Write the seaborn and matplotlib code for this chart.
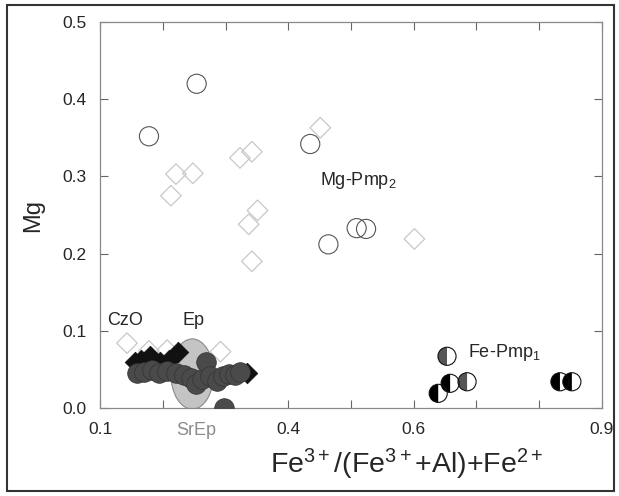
import numpy as np
import pandas as pd
import seaborn as sns
import matplotlib.pyplot as plt
from matplotlib.markers import MarkerStyle
from matplotlib.patches import Ellipse, Rectangle

# Mg-Pmp2 (open diamonds)
dia_x = [0.221, 0.248, 0.213, 0.323, 0.342, 0.351, 0.337, 0.342, 0.451, 0.601,
         0.143, 0.178, 0.207, 0.292]
dia_y = [0.303, 0.304, 0.275, 0.324, 0.332, 0.256, 0.238, 0.190, 0.363, 0.219,
         0.084, 0.074, 0.075, 0.073]

# Mg-Pmp2 (open circles)
circ_x = [0.178, 0.254, 0.435, 0.464, 0.509, 0.524]
circ_y = [0.352, 0.420, 0.342, 0.212, 0.233, 0.232]

# Ep (filled black diamonds)
ep_x = [0.155, 0.165, 0.180, 0.195, 0.210, 0.225, 0.335]
ep_y = [0.060, 0.062, 0.068, 0.060, 0.062, 0.072, 0.045]

# filled gray circles
gr_x = [0.159, 0.170, 0.183, 0.194, 0.207, 0.221, 0.234, 0.245, 0.253, 0.262,
        0.269, 0.276, 0.286, 0.296, 0.305, 0.315, 0.323, 0.297]
gr_y = [0.045, 0.047, 0.049, 0.045, 0.048, 0.045, 0.043, 0.039, 0.031, 0.038,
        0.060, 0.041, 0.035, 0.041, 0.044, 0.043, 0.047, 0.000]

# Fe-Pmp1 (half filled circles)
fe_x = [0.653, 0.639, 0.658, 0.685, 0.833, 0.852]
fe_y = [0.067, 0.019, 0.032, 0.034, 0.034, 0.034]
fe_fill = ['#555555', '#000000', '#000000', '#555555', '#000000', '#000000']

# SrEp field
srep_center = (0.247, 0.044)
srep_w, srep_h = 0.068, 0.091

sns.set_style('ticks')
plt.rcParams['font.family'] = ['Liberation Sans', 'DejaVu Sans']
plt.rcParams['mathtext.fontset'] = 'custom'
plt.rcParams['mathtext.rm'] = 'Liberation Sans'
plt.rcParams['mathtext.it'] = 'Liberation Sans'

fig = plt.figure(figsize=(6.19, 4.96), dpi=100)
ax = fig.add_axes([0.1616, 0.1774, 0.8109, 0.7782])

ax.add_patch(Ellipse(srep_center, srep_w, srep_h, facecolor='#c4c4c4',
                     edgecolor='#8a8a8a', lw=0.8, zorder=1.5))

sns.scatterplot(x=dia_x, y=dia_y, ax=ax, marker='D', s=110, facecolor='none',
                edgecolor='#c8c8c8', linewidth=0.9, zorder=1)
sns.scatterplot(x=circ_x, y=circ_y, ax=ax, marker='o', s=190, facecolor='none',
                edgecolor='#555555', linewidth=0.8, zorder=2)
sns.scatterplot(x=ep_x, y=ep_y, ax=ax, marker='D', s=110, color='#111111',
                edgecolor='#111111', linewidth=0.5, zorder=2)
sns.scatterplot(x=gr_x, y=gr_y, ax=ax, marker='o', s=200, color='#4a4a4a',
                edgecolor='#333333', linewidth=0.5, zorder=3)
sns.scatterplot(x=fe_x, y=fe_y, ax=ax, marker=MarkerStyle('o', fillstyle='left'),
                s=170, c=fe_fill, edgecolor='none', zorder=3)
sns.scatterplot(x=fe_x, y=fe_y, ax=ax, marker='o', s=170, facecolor='none',
                edgecolor='#111111', linewidth=0.8, zorder=4)

ax.set_xlim(0.1, 0.9)
ax.set_ylim(0.0, 0.5)
ax.set_xticks(np.arange(0.1, 0.91, 0.1))
ax.set_xticklabels(['0.1', '', '', '0.4', '', '0.6', '', '', '0.9'])
ax.set_yticks(np.arange(0.0, 0.51, 0.1))
ax.set_yticklabels(['0.0', '0.1', '0.2', '0.3', '0.4', '0.5'])
ax.tick_params(direction='in', length=6, width=0.8, color='#666666',
               top=True, right=True, labelsize=12.5, pad=10)
for sp in ax.spines.values():
    sp.set_color('#888888')
    sp.set_linewidth(0.9)

ax.set_xlabel('Fe$^{3+}$/(Fe$^{3+}$+Al)+Fe$^{2+}$', fontsize=20.5)
ax.xaxis.set_label_coords(0.61, -0.1)
ax.set_ylabel('Mg', fontsize=17, labelpad=13)

ax.text(0.112, 0.114, 'CzO', fontsize=13, ha='left', va='center')
ax.text(0.249, 0.114, 'Ep', fontsize=13, ha='center', va='center')
ax.text(0.450, 0.295, 'Mg-Pmp$_2$', fontsize=13, ha='left', va='center')
ax.text(0.687, 0.072, 'Fe-Pmp$_1$', fontsize=13, ha='left', va='center')
ax.text(0.253, -0.029, 'SrEp', fontsize=13, ha='center', va='center',
        color='#8c8c8c', clip_on=False)

fig.patches.append(Rectangle((0.012, 0.01), 0.98, 0.98, transform=fig.transFigure,
                             fill=False, edgecolor='#333333', lw=1.5))

fig.savefig('out.png', dpi=100)
